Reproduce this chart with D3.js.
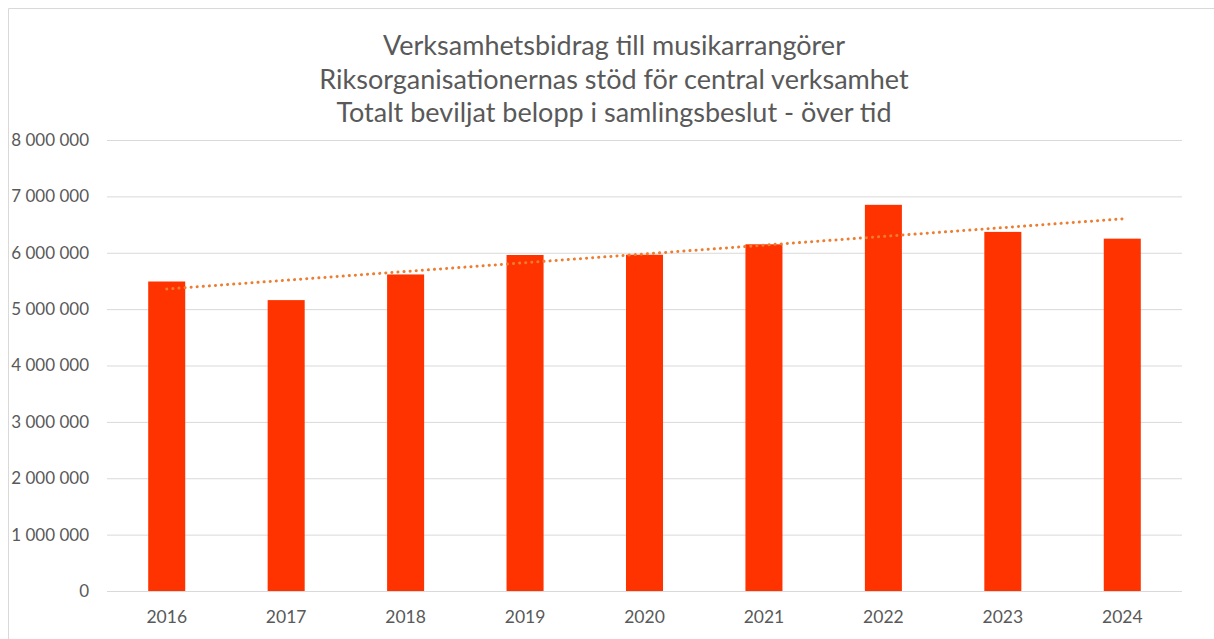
<!DOCTYPE html>
<html>
<head>
<meta charset="utf-8">
<script src="https://cdn.jsdelivr.net/npm/d3@7"></script>
<style>
  body { margin: 0; background: #fff; }
  svg text { font-family: Lato, "Liberation Sans", sans-serif; fill: #595959; }
</style>
</head>
<body>
<div id="chart"></div>
<script>
// chart data
const years = ["2016", "2017", "2018", "2019", "2020", "2021", "2022", "2023", "2024"];
const amounts = [5490000, 5160000, 5615000, 5960000, 5965000, 6150000, 6850000, 6370000, 6250000];
const yTicks = [0, 1000000, 2000000, 3000000, 4000000, 5000000, 6000000, 7000000, 8000000];
const titleLines = [
   "Verksamhetsbidrag till musikarrangörer",
   "Riksorganisationernas stöd för central verksamhet",
   "Totalt beviljat belopp i samlingsbeslut - över tid"
];

// sizes
const wide = 1214;
const high = 639;
const plotLeft = 107, plotRight = 1182, plotTop = 140, plotBottom = 591;

const svg = d3.select("#chart")
   .append("svg")
   .attr("width", wide)
   .attr("height", high);

// outer frame
svg.append("path")
   .attr("d", `M8.5,${high} V8.5 H${wide}`)
   .attr("fill", "none")
   .attr("stroke", "#d9d9d9")
   .attr("stroke-width", 1);

// title
svg.append("g")
   .selectAll("text")
   .data(titleLines)
   .enter()
   .append("text")
   .attr("x", 614)
   .attr("y", (d, i) => 55 + i * 33.5)
   .attr("text-anchor", "middle")
   .style("font-size", "27px")
   .text((d) => d);

// scales
const xScale = d3.scaleBand()
   .domain(years)
   .range([plotLeft, plotRight])
   .paddingInner(0.69)
   .paddingOuter(0.345);

const yScale = d3.scaleLinear()
   .domain([0, 8000000])
   .range([plotBottom, plotTop]);

const fmt = d3.formatLocale({ decimal: ",", thousands: "\u00a0", grouping: [3], currency: ["", ""] }).format(",");

// gridlines + y labels
const yAxis = d3.axisLeft(yScale)
   .tickValues(yTicks)
   .tickSize(-(plotRight - plotLeft))
   .tickPadding(18)
   .tickFormat(fmt);

svg.append("g")
   .attr("transform", `translate(${plotLeft},0)`)
   .call(yAxis)
   .call((g) => g.select(".domain").remove())
   .call((g) => g.selectAll("line").attr("stroke", "#d9d9d9"))
   .call((g) => g.selectAll("text").style("font-size", "17px").attr("fill", "#595959"));

// x labels
const xAxis = d3.axisBottom(xScale).tickSize(0).tickPadding(20);

svg.append("g")
   .attr("transform", `translate(0,${plotBottom})`)
   .call(xAxis)
   .call((g) => g.select(".domain").remove())
   .call((g) => g.selectAll("text").style("font-size", "17.5px").attr("fill", "#595959"));

// bars
svg.append("g")
   .selectAll("rect")
   .data(amounts)
   .enter()
   .append("rect")
   .attr("x", (d, i) => xScale(years[i]))
   .attr("y", (d) => yScale(d))
   .attr("width", xScale.bandwidth())
   .attr("height", (d) => plotBottom - yScale(d))
   .attr("fill", "#ff3300");

// linear trendline (least squares)
const n = amounts.length;
const mx = (n + 1) / 2;
const my = d3.mean(amounts);
const slope = d3.sum(amounts, (d, i) => (i + 1 - mx) * (d - my)) / d3.sum(amounts, (d, i) => (i + 1 - mx) ** 2);
const trend = years.map((y, i) => [y, my + slope * (i + 1 - mx)]);
const ends = [trend[0], trend[n - 1]];

svg.append("path")
   .datum(ends)
   .attr("d", d3.line()
      .x((d) => xScale(d[0]) + xScale.bandwidth() / 2)
      .y((d) => yScale(d[1])))
   .attr("fill", "none")
   .attr("stroke", "#ed7d31")
   .attr("stroke-width", 3)
   .attr("stroke-linecap", "round")
   .attr("stroke-dasharray", "0.1 6");
</script>
</body>
</html>
